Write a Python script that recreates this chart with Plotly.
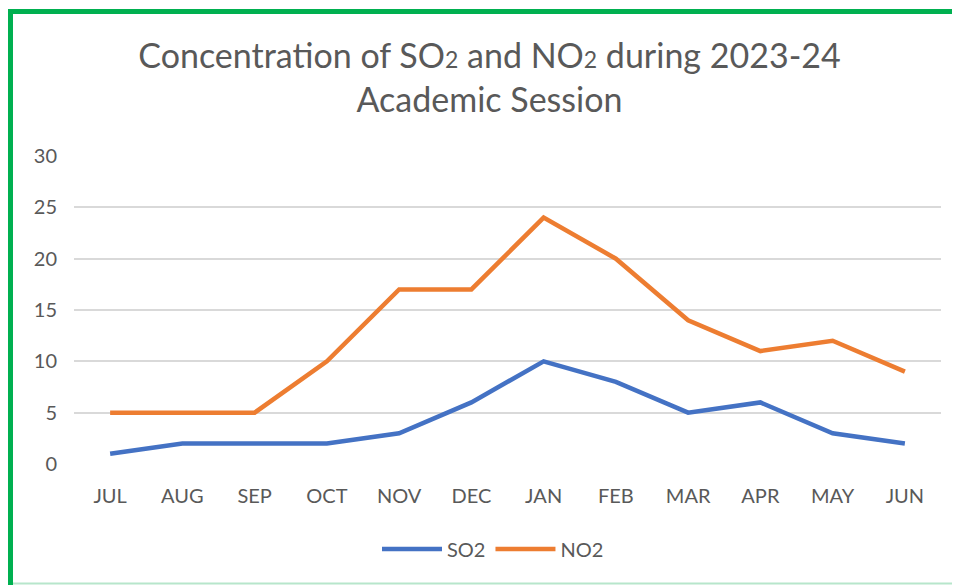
import plotly.graph_objects as go

months = ["JUL", "AUG", "SEP", "OCT", "NOV", "DEC", "JAN", "FEB", "MAR", "APR", "MAY", "JUN"]
so2 = [1, 2, 2, 2, 3, 6, 10, 8, 5, 6, 3, 2]
no2 = [5, 5, 5, 10, 17, 17, 24, 20, 14, 11, 12, 9]
y_ticks = [0, 5, 10, 15, 20, 25, 30]

FONT = "Lato"
GREY = "#595959"

fig = go.Figure()
fig.add_trace(go.Scatter(x=months, y=so2, name="SO2", mode="lines",
                         line=dict(color="#4472C4", width=4.5)))
fig.add_trace(go.Scatter(x=months, y=no2, name="NO2", mode="lines",
                         line=dict(color="#ED7D31", width=4.5)))

# page has an 8px body margin; figure coordinates = page coordinates - 8
W, H = 952, 577
L, R, T, B = 66, 19, 148, 121
pw, ph = W - L - R, H - T - B

def px(x):
    return (x - L) / pw

def py(y):
    return (H - B - y) / ph

fig.update_layout(
    width=W, height=H,
    margin=dict(l=L, r=R, t=T, b=B),
    paper_bgcolor="white", plot_bgcolor="white",
    font=dict(family=FONT, color=GREY, size=20),
    title=dict(
        text="Concentration of SO<span style='font-size:23px'>2</span> and NO<span style='font-size:23px'>2</span> during 2023-24<br>Academic Session",
        x=481.5 / W, xanchor="center", y=1 - 60 / H, yanchor="middle",
        font=dict(family=FONT, size=34, color=GREY),
    ),
    xaxis=dict(type="category", range=[-0.5, 11.5], showgrid=False, showline=False,
               ticks="", tickfont=dict(size=20, color=GREY), ticklabelstandoff=18),
    yaxis=dict(range=[0, 30], tickvals=y_ticks, showgrid=True, gridcolor="#D9D9D9",
               gridwidth=1.5, zeroline=False, showline=False, ticks="",
               tickfont=dict(size=20, color=GREY), ticklabelstandoff=16),
    legend=dict(orientation="h", x=px(485), xanchor="center", y=py(541), yanchor="middle",
                font=dict(size=20, color=GREY), itemwidth=60, bgcolor="rgba(0,0,0,0)"),
    showlegend=True,
)

# green frame
fig.add_shape(type="line", xref="paper", yref="paper", x0=px(2.5), x1=px(2.5), y0=py(580), y1=py(1),
              line=dict(color="#00B050", width=5))
fig.add_shape(type="line", xref="paper", yref="paper", x0=px(0), x1=px(960), y0=py(3.5), y1=py(3.5),
              line=dict(color="#00B050", width=5))
fig.add_shape(type="line", xref="paper", yref="paper", x0=px(5), x1=px(960), y0=py(575.5), y1=py(575.5),
              line=dict(color="#B7E6CB", width=2))

fig.write_html("out.html")
